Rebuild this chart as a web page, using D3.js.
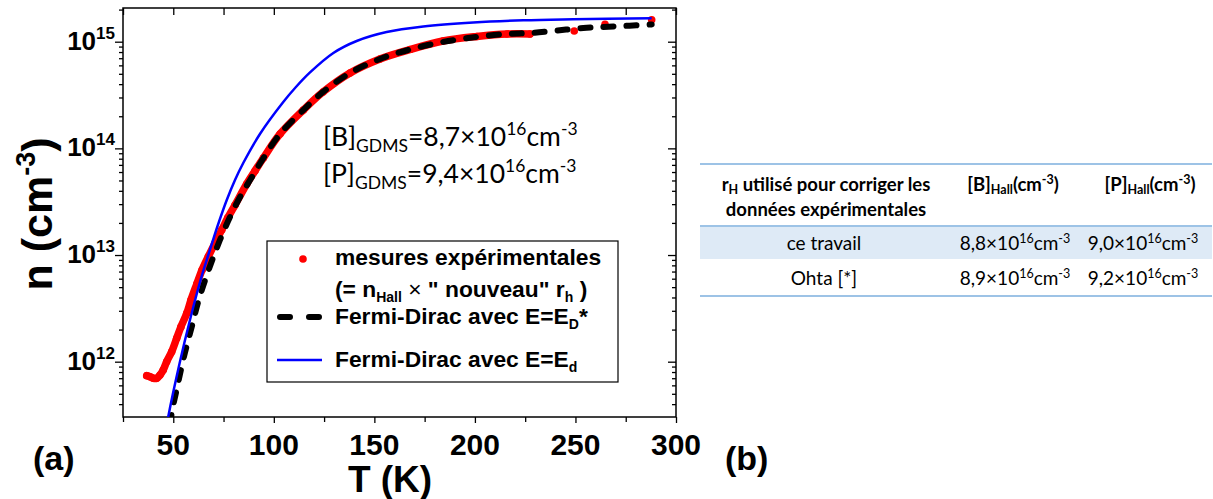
<!DOCTYPE html>
<html><head><meta charset="utf-8">
<script src="https://cdn.jsdelivr.net/npm/d3@7"></script>
<style>body{margin:0;background:#fff;} svg{display:block;}</style>
</head><body>
<svg id="c" width="1213" height="499"></svg>
<script>
// ---------------- DATA ----------------
const xDomain = [25, 300];
const yDomain = [3.03e11, 2.07e15];
const xMajorTicks = [50, 100, 150, 200, 250, 300];
const xMinorTicks = [25, 75, 125, 175, 225, 275];
const yMajorExps = [12, 13, 14, 15];

// measured data (red points)
const measT = [36.8, 38.4, 40.1, 41.8, 43.4, 45.0, 46.7, 49.2, 51.7, 53.8, 56.7, 58.8, 61.7, 64.3, 67.4, 70.8, 74.1, 77.1, 80.7, 86.5, 90.6, 94.8, 103.1, 114.7, 124.5, 137.9, 152.8, 167.7, 184.1, 201.0, 216.0, 227.4];
const measN = [7.39e11, 7.23e11, 6.99e11, 6.99e11, 7.5e11, 8.36e11, 1.0e12, 1.24e12, 1.66e12, 2.12e12, 2.84e12, 3.79e12, 5.35e12, 7.24e12, 9.65e12, 1.30e13, 1.72e13, 2.23e13, 2.94e13, 4.63e13, 6.14e13, 8.12e13, 1.364e14, 2.29e14, 3.38e14, 5.09e14, 6.89e14, 8.45e14, 1.016e15, 1.12e15, 1.182e15, 1.182e15];
const measSparseT = [249.4, 264.7, 287.9];
const measSparseN = [1.259e15, 1.455e15, 1.605e15];

// Fermi-Dirac with E = E_D* (black dashed)
const fdStarT = [48.6, 49.2, 52.0, 55.3, 59.2, 62.9, 68.3, 73.2, 78.2, 83.2, 88.2, 94.8, 103.1, 114.7, 124.5, 137.9, 152.8, 167.7, 184.1, 201.0, 216.0, 227.4, 240.7, 253.9, 268.8, 287.9];
const fdStarN = [2.55e11, 3.28e11, 5.83e11, 1.114e12, 2.13e12, 3.93e12, 7.89e12, 1.383e13, 2.27e13, 3.50e13, 5.05e13, 8.12e13, 1.364e14, 2.29e14, 3.38e14, 5.09e14, 6.89e14, 8.45e14, 9.94e14, 1.108e15, 1.182e15, 1.207e15, 1.274e15, 1.345e15, 1.389e15, 1.451e15];

// Fermi-Dirac with E = E_d (blue)
const fdT = [46.4, 47.5, 53.4, 58.3, 63.3, 66.3, 69.3, 72.7, 76.6, 80.7, 84.8, 93.1, 104.7, 111.0, 118.0, 129.6, 141.2, 156.1, 174.3, 199.2, 224.1, 248.9, 287.9];
const fdN = [2.3e11, 3.05e11, 1.015e12, 2.46e12, 5.59e12, 8.6e12, 1.297e13, 2.04e13, 3.28e13, 5.05e13, 7.29e13, 1.364e14, 2.72e14, 3.76e14, 5.15e14, 7.84e14, 1.016e15, 1.233e15, 1.389e15, 1.514e15, 1.588e15, 1.623e15, 1.659e15];

// table
const tableHeader = ["r_H utilisé pour corriger les|données expérimentales", "[B]_Hall(cm^-3)", "[P]_Hall(cm^-3)"];
const tableRows = ["ce travail", "Ohta [*]"];
const tableB = ["8,8", "8,9"];
const tableP = ["9,0", "9,2"];

// ---------------- DRAW ----------------
const svg = d3.select("#c");
const ARIAL = "'Liberation Sans', Arial, sans-serif";
const CALIBRI = "Lato, 'Open Sans', sans-serif";
const P = {l: 123, r: 676, t: 8, b: 417};
const x = d3.scaleLinear().domain(xDomain).range([P.l, P.r]);
const y = d3.scaleLog().domain(yDomain).range([P.b, P.t]);

svg.append("defs").append("clipPath").attr("id", "clip")
  .append("rect").attr("x", P.l).attr("y", P.t).attr("width", P.r - P.l).attr("height", P.b - P.t);

const yMinor = [];
for (let e = 11; e <= 15; e++) for (let m = 2; m <= 9; m++) {
  const v = m * Math.pow(10, e);
  if (v >= yDomain[0] && v <= yDomain[1]) yMinor.push(v);
}
const yMajor = yMajorExps.map(e => Math.pow(10, e));

function styleAxis(g) {
  g.selectAll("text").remove();
  g.select(".domain").remove();
  g.selectAll("line").attr("stroke", "#000").attr("stroke-width", 1.3);
}
svg.append("g").attr("transform", `translate(0,${P.b})`)
  .call(d3.axisBottom(x).tickValues(xMajorTicks).tickSize(6)).call(styleAxis);
svg.append("g").attr("transform", `translate(0,${P.b})`)
  .call(d3.axisBottom(x).tickValues(xMinorTicks).tickSize(5)).call(styleAxis);
svg.append("g").attr("transform", `translate(0,${P.t})`)
  .call(d3.axisTop(x).tickValues(xMajorTicks.concat(xMinorTicks)).tickSize(-7)).call(styleAxis);
svg.append("g").attr("transform", `translate(${P.l},0)`)
  .call(d3.axisLeft(y).tickValues(yMajor).tickSize(8)).call(styleAxis);
svg.append("g").attr("transform", `translate(${P.l},0)`)
  .call(d3.axisLeft(y).tickValues(yMinor).tickSize(4)).call(styleAxis);
svg.append("g").attr("transform", `translate(${P.r},0)`)
  .call(d3.axisRight(y).tickValues(yMajor).tickSize(-8)).call(styleAxis);
svg.append("g").attr("transform", `translate(${P.r},0)`)
  .call(d3.axisRight(y).tickValues(yMinor).tickSize(-4)).call(styleAxis);

svg.append("rect").attr("x", P.l).attr("y", P.t).attr("width", P.r - P.l).attr("height", P.b - P.t)
  .attr("fill", "none").attr("stroke", "#000").attr("stroke-width", 1.5);

// tick labels
svg.append("g").selectAll("text").data(xMajorTicks).join("text")
  .attr("x", d => x(d)).attr("y", 455).attr("text-anchor", "middle")
  .attr("font-family", ARIAL).attr("font-weight", "bold").attr("font-size", 30)
  .text(d => d);
const yl = svg.append("g").selectAll("text").data(yMajorExps).join("text")
  .attr("x", 115).attr("y", d => y(Math.pow(10, d)) + 8).attr("text-anchor", "end")
  .attr("font-family", ARIAL).attr("font-weight", "bold").attr("font-size", 26);
yl.append("tspan").text("10");
yl.append("tspan").attr("font-size", 17).attr("dy", -11).text(d => d);

// axis titles
svg.append("text").attr("x", 390).attr("y", 492).attr("text-anchor", "middle")
  .attr("font-family", ARIAL).attr("font-weight", "bold").attr("font-size", 37).text("T (K)");
const ylab = svg.append("text").attr("transform", "translate(52,214) rotate(-90)")
  .attr("text-anchor", "middle").attr("font-family", ARIAL).attr("font-weight", "bold").attr("font-size", 43);
ylab.append("tspan").text("n (cm");
ylab.append("tspan").attr("font-size", 27).attr("dy", -17).text("-3");
ylab.append("tspan").attr("dy", 17).text(")");

svg.append("text").attr("x", 33).attr("y", 470).attr("font-family", ARIAL).attr("font-weight", "bold")
  .attr("font-size", 34).text("(a)");
svg.append("text").attr("x", 725).attr("y", 470).attr("font-family", ARIAL).attr("font-weight", "bold")
  .attr("font-size", 34).text("(b)");

// curves
const plotG = svg.append("g").attr("clip-path", "url(#clip)");
const meas = measT.map((t, i) => [t, measN[i]]);
const measSparse = measSparseT.map((t, i) => [t, measSparseN[i]]);
const fdStar = fdStarT.map((t, i) => [t, fdStarN[i]]);
const fd = fdT.map((t, i) => [t, fdN[i]]);
const line = d3.line().x(d => x(d[0])).y(d => y(d[1])).curve(d3.curveCatmullRom.alpha(0.5));

plotG.append("path").datum(meas).attr("d", line).attr("fill", "none").attr("stroke", "#ff0000")
  .attr("stroke-width", 7.5).attr("stroke-linejoin", "round").attr("stroke-linecap", "round");
plotG.append("g").selectAll("circle").data(meas.concat(measSparse)).join("circle")
  .attr("cx", d => x(d[0])).attr("cy", d => y(d[1])).attr("r", 3.8).attr("fill", "#ff0000");
plotG.append("path").datum(fdStar).attr("d", line).attr("fill", "none").attr("stroke", "#000")
  .attr("stroke-width", 6).attr("stroke-dasharray", "10,13").attr("stroke-linecap", "round");
plotG.append("path").datum(fd).attr("d", line).attr("fill", "none").attr("stroke", "#0000ff")
  .attr("stroke-width", 2.5);

// annotation
function concLine(yy, el, val) {
  const t = svg.append("text").attr("x", 323).attr("y", yy).attr("font-family", CALIBRI).attr("font-size", 26.5);
  t.append("tspan").text(el);
  t.append("tspan").attr("font-size", 17.5).attr("dy", 6).text("GDMS");
  t.append("tspan").attr("dy", -6).text("=" + val + "×10");
  t.append("tspan").attr("font-size", 17.5).attr("dy", -11).text("16");
  t.append("tspan").attr("dy", 11).text("cm");
  t.append("tspan").attr("font-size", 17.5).attr("dy", -11).text("-3");
}
concLine(146, "[B]", "8,7");
concLine(183, "[P]", "9,4");

// legend
svg.append("rect").attr("x", 267).attr("y", 241).attr("width", 351).attr("height", 141)
  .attr("fill", "#fff").attr("stroke", "#000").attr("stroke-width", 1.2);
svg.append("circle").attr("cx", 303).attr("cy", 259).attr("r", 3.8).attr("fill", "#ff0000");
svg.append("line").attr("x1", 280).attr("x2", 319).attr("y1", 317).attr("y2", 317)
  .attr("stroke", "#000").attr("stroke-width", 6).attr("stroke-dasharray", "10,19").attr("stroke-linecap", "round");
svg.append("line").attr("x1", 277).attr("x2", 322).attr("y1", 360).attr("y2", 360)
  .attr("stroke", "#0000ff").attr("stroke-width", 2.5);
const LF = 22.8;
function legText(yy) {
  return svg.append("text").attr("x", 335).attr("y", yy).attr("font-family", ARIAL)
    .attr("font-weight", "bold").attr("font-size", LF);
}
legText(265).text("mesures expérimentales");
const l2 = legText(297);
l2.append("tspan").text("(= n");
l2.append("tspan").attr("font-size", 14).attr("dy", 5).text("Hall");
l2.append("tspan").attr("dy", -5).attr("font-weight", "normal").text(" × ");
l2.append("tspan").text("\" nouveau\" r");
l2.append("tspan").attr("font-size", 14).attr("dy", 5).text("h");
l2.append("tspan").attr("dy", -5).text(" )");
const l3 = legText(324);
l3.append("tspan").text("Fermi-Dirac avec E=E");
l3.append("tspan").attr("font-size", 14).attr("dy", 5).text("D");
l3.append("tspan").attr("dy", -5).text("*");
const l4 = legText(367);
l4.append("tspan").text("Fermi-Dirac avec E=E");
l4.append("tspan").attr("font-size", 14).attr("dy", 5).text("d");

// table
const TL = 700, TR = 1212;
const lineC = "#9dc3e6";
svg.append("rect").attr("x", TL).attr("y", 226).attr("width", TR - TL).attr("height", 33).attr("fill", "#deeaf6");
[164, 226, 296].forEach(yy => svg.append("line").attr("x1", TL).attr("x2", TR).attr("y1", yy).attr("y2", yy)
  .attr("stroke", lineC).attr("stroke-width", 2));
const TF = 19;
const HF = 18.5;
const h1 = svg.append("text").attr("x", 826).attr("y", 191).attr("text-anchor", "middle")
  .attr("font-family", CALIBRI).attr("font-weight", "bold").attr("font-size", HF);
const hp = tableHeader[0].split("|");
h1.append("tspan").text("r");
h1.append("tspan").attr("font-size", 12.5).attr("dy", 3).text("H");
h1.append("tspan").attr("dy", -3).text(hp[0].slice(3));
svg.append("text").attr("x", 826).attr("y", 216).attr("text-anchor", "middle")
  .attr("font-family", CALIBRI).attr("font-weight", "bold").attr("font-size", HF).text(hp[1]);
function hallHeader(cx, el) {
  const t = svg.append("text").attr("x", cx).attr("y", 191).attr("text-anchor", "middle")
    .attr("font-family", CALIBRI).attr("font-weight", "bold").attr("font-size", HF);
  t.append("tspan").text(el);
  t.append("tspan").attr("font-size", 12.5).attr("dy", 3).text("Hall");
  t.append("tspan").attr("dy", -3).text("(cm");
  t.append("tspan").attr("font-size", 12.5).attr("dy", -7).text("-3");
  t.append("tspan").attr("dy", 7).text(")");
}
hallHeader(1013, tableHeader[1].slice(0, 3));
hallHeader(1150, tableHeader[2].slice(0, 3));
function val(cx, yy, v) {
  const t = svg.append("text").attr("x", cx).attr("y", yy).attr("text-anchor", "middle")
    .attr("font-family", CALIBRI).attr("font-size", TF);
  t.append("tspan").text(v + "×10");
  t.append("tspan").attr("font-size", 12.5).attr("dy", -7).text("16");
  t.append("tspan").attr("dy", 7).text("cm");
  t.append("tspan").attr("font-size", 12.5).attr("dy", -7).text("-3");
}
const rowY = [250, 285];
tableRows.forEach((r, i) => {
  svg.append("text").attr("x", 824).attr("y", rowY[i]).attr("text-anchor", "middle")
    .attr("font-family", CALIBRI).attr("font-size", TF).text(r);
  val(1015, rowY[i], tableB[i]);
  val(1143, rowY[i], tableP[i]);
});
</script>
</body></html>
